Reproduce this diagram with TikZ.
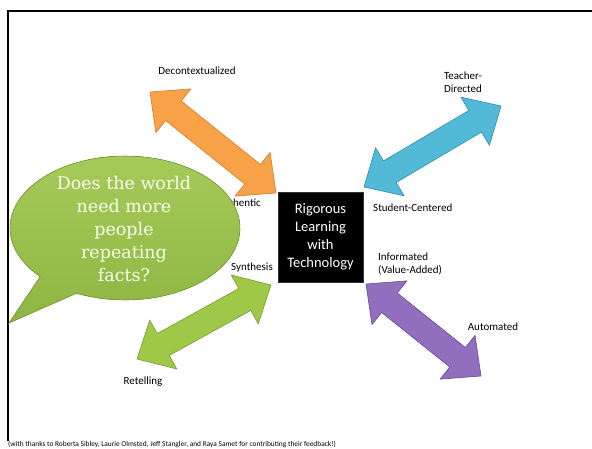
\documentclass[tikz,border=0pt]{standalone}
\usepackage{fontspec}
\setmainfont{Carlito}
\newfontfamily\bubblefont{DejaVu Serif}
\usetikzlibrary{calc}
\definecolor{orangeFill}{RGB}{248,162,72}
\definecolor{orangeLine}{RGB}{214,122,42}
\definecolor{blueFill}{RGB}{82,186,214}
\definecolor{blueLine}{RGB}{44,142,172}
\definecolor{purpleFill}{RGB}{146,110,190}
\definecolor{purpleLine}{RGB}{104,76,146}
\definecolor{greenFill}{RGB}{160,200,72}
\definecolor{greenLine}{RGB}{120,156,52}
\definecolor{bubbleTop}{RGB}{166,202,90}
\definecolor{bubbleBottom}{RGB}{142,182,66}
\definecolor{bubbleText}{RGB}{250,252,238}
\tikzset{label text/.style={
    font=\fontsize{11}{13}\selectfont,
    align=center,
    inner sep=0pt
  },
  block arrow/.style={
    line width=0.6pt,
    line join=round
  },
  frame line/.style={line width=2.4pt},
  center box/.style={
    fill=black,
    draw=black!80,
    minimum width=85pt,
    minimum height=90pt,
    inner sep=0pt,
    text=white,
    align=center,
    font=\fontsize{14.5}{18}\selectfont
  },
  question/.style={
    text=bubbleText,
    align=center,
    inner sep=0pt,
    font=\bubblefont\fontsize{17.5}{23}\selectfont
  }
}
\newcommand{\twowayarrow}[3]{%
  \filldraw[block arrow,#3] (#1)
    -- ($(#1)!30pt!(#2)!28pt!90:(#2)$)
    -- ($(#1)!30pt!(#2)!12.5pt!90:(#2)$)
    -- ($(#2)!30pt!(#1)!12.5pt!-90:(#1)$)
    -- ($(#2)!30pt!(#1)!28pt!-90:(#1)$)
    -- (#2)
    -- ($(#2)!30pt!(#1)!28pt!90:(#1)$)
    -- ($(#2)!30pt!(#1)!12.5pt!90:(#1)$)
    -- ($(#1)!30pt!(#2)!12.5pt!-90:(#2)$)
    -- ($(#1)!30pt!(#2)!28pt!-90:(#2)$)
    -- cycle;%
}

\begin{document}
\begin{tikzpicture}[x=1pt,y=-1pt]
    \useasboundingbox (0,0) rectangle (592,449);
    \coordinate (FrameCorner) at (8,11);
    \coordinate (FrameEnd) at (8,441);
    \coordinate (FrameRight) at (592,11);
    \draw[frame line] (FrameEnd) -- (FrameCorner) -- (FrameRight);

    \node[label text] (Decontextualized) at (197,71) {Decontextualized};
    \node[label text, anchor=east] (Authentic) at (261,203) {Authentic};
    \node[label text] (TeacherDirected) at (463,82) {Teacher-\\Directed};
    \node[label text, anchor=west] (StudentCentered) at (373,208) {Student-Centered};
    \node[label text] (Synthesis) at (252,268) {Synthesis};
    \node[label text, align=left, anchor=west] (Informated) at (378,264) {Informated\\(Value-Added)};
    \node[label text] (Automated) at (493,327) {Automated};
    \node[label text] (Retelling) at (143,382) {Retelling};

    \coordinate (OrangeA) at (150,92);
    \coordinate (OrangeB) at (276,193);
    \coordinate (BlueA) at (364,187);
    \coordinate (BlueB) at (501,106);
    \coordinate (PurpleA) at (366,284);
    \coordinate (PurpleB) at (481,376);
    \coordinate (GreenA) at (137,359);
    \coordinate (GreenB) at (271,285);
    \twowayarrow{OrangeA}{OrangeB}{fill=orangeFill, draw=orangeLine}
    \twowayarrow{BlueA}{BlueB}{fill=blueFill, draw=blueLine}
    \twowayarrow{PurpleA}{PurpleB}{fill=purpleFill, draw=purpleLine}
    \twowayarrow{GreenA}{GreenB}{fill=greenFill, draw=greenLine}

    \node[center box] (Center) at (320.5,237) {Rigorous\\Learning\\with\\Technology};

    \coordinate (TailTip) at (9,323);
    \filldraw[top color=bubbleTop, bottom color=bubbleBottom, draw=greenLine, line width=0.6pt]
      plot[variable=\t, domain=137.5:475, samples=90] ({125+115*cos(\t)},{228+72*sin(\t)})
      -- (TailTip) -- cycle;
    \node[question] (Question) at (124,228.5) {Does the world\\need more\\people\\repeating\\facts?};

    \node[anchor=west, inner sep=0pt, font=\fontsize{7.4}{8.5}\selectfont] (Thanks) at (8,444)
      {(with thanks to Roberta Sibley, Laurie Olmsted, Jeff Stangler, and Raya Samet for contributing their feedback!)};
\end{tikzpicture}
\end{document}
